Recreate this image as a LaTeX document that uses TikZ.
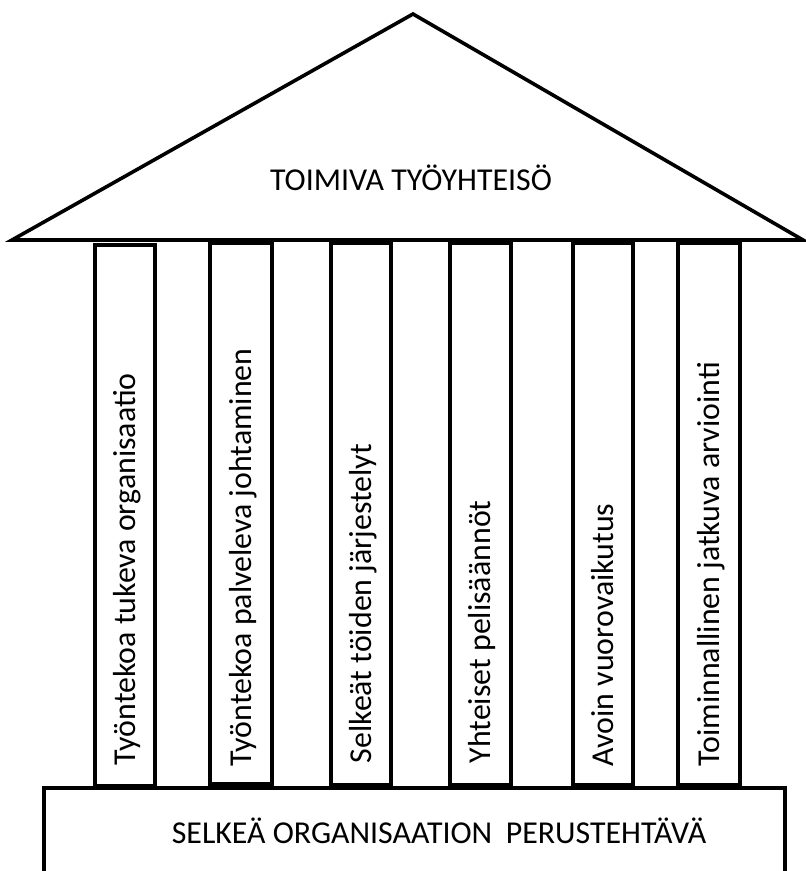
\documentclass[tikz,border=0pt]{standalone}
\usepackage{fontspec}
\setmainfont{Carlito}
\begin{document}
\begin{tikzpicture}[x=1bp, y=-1bp, line width=3.6bp,
  txt/.style={font=\fontsize{32}{38}\selectfont, inner sep=0pt, anchor=base},
  pillartext/.style={txt, rotate=90, anchor=base west},
  pillarbox/.style={draw, line join=miter}]
  \useasboundingbox (0,0) rectangle (806,871);
  \clip (0,0) rectangle (806,871);

  % pillars
  \draw[pillarbox] (95,245) rectangle (155,786);
  \draw[pillarbox] (210,243) rectangle (272,784);
  \draw[pillarbox] (331,243) rectangle (391,785);
  \draw[pillarbox] (450,243) rectangle (511,785);
  \draw[pillarbox] (573,243) rectangle (633,785);
  \draw[pillarbox] (678,243) rectangle (740,785);

  % roof
  \draw[line join=miter] (12,240) -- (413,14) -- (803,240) -- cycle;
  \node[txt] (roof) at (411,190) {TOIMIVA TYÖYHTEISÖ};

  % foundation
  \draw (44,788) rectangle (785,900);
  \node[txt] (base) at (439,843) {SELKEÄ ORGANISAATION\hspace{0.2em} PERUSTEHTÄVÄ};

  % pillar labels
  \node[pillartext] (p1) at (135,767) {Työntekoa tukeva organisaatio};
  \node[pillartext] (p2) at (251,768) {Työntekoa palveleva johtaminen};
  \node[pillartext] (p3) at (371,765) {Selkeät töiden järjestelyt};
  \node[pillartext] (p4) at (490,765) {Yhteiset pelisäännöt};
  \node[pillartext] (p5) at (613,768) {Avoin vuorovaikutus};
  \node[pillartext] (p6) at (719,768) {Toiminnallinen jatkuva arviointi};
\end{tikzpicture}
\end{document}
